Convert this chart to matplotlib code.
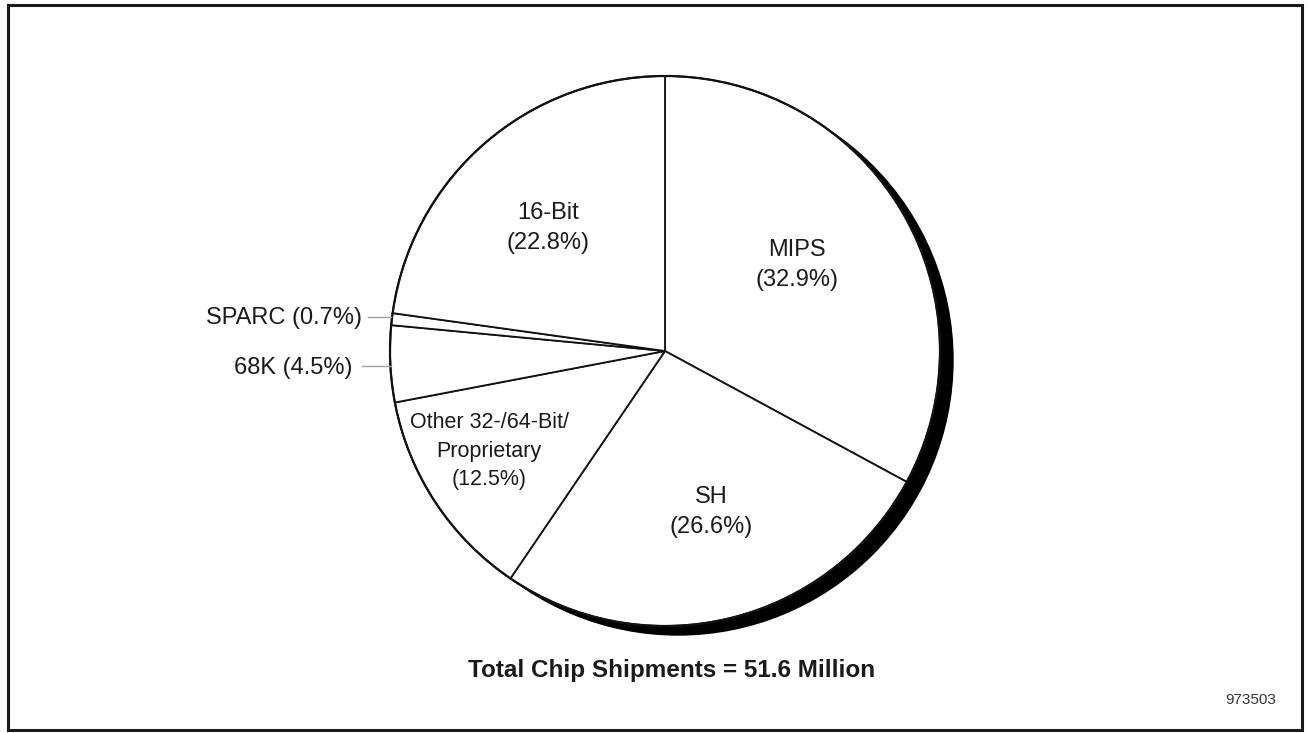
import matplotlib
matplotlib.use("Agg")
import matplotlib.pyplot as plt
from matplotlib.patches import Circle, Rectangle

# Data
categories = ["MIPS", "SH", "Other 32-/64-Bit/\nProprietary", "68K", "SPARC", "16-Bit"]
shares = [32.9, 26.6, 12.5, 4.5, 0.7, 22.8]
title_text = "Total Chip Shipments = 51.6 Million"
figure_id = "973503"

plt.rcParams['font.family'] = ['Liberation Sans', 'DejaVu Sans']

W, H = 1308, 733
fig = plt.figure(figsize=(W / 100, H / 100), dpi=100)
ax = fig.add_axes([0, 0, 1, 1])

cx, cy, R = 665, 733 - 351, 275

# shadow
ax.add_patch(Circle((cx + 13, cy - 9), R, facecolor='black', edgecolor='black', zorder=0))

wedges, _ = ax.pie(shares, startangle=90, counterclock=False, center=(cx, cy), radius=R,
                   wedgeprops=dict(facecolor='white', edgecolor='#111111', linewidth=1.3))
for w in wedges:
    w.set_zorder(1)
# outer outline a bit thicker
ax.add_patch(Circle((cx, cy), R, facecolor='none', edgecolor='#111111', linewidth=1.6, zorder=2))

tc = '#1a1a1a'
fs = 17
def lab(i, x, y, size=fs):
    ax.text(x, H - y, f"{categories[i]}\n({shares[i]}%)", ha='center', va='center',
            fontsize=size, color=tc, linespacing=1.5, zorder=3)

lab(0, 797, 265)
lab(1, 711, 512)
lab(2, 489, 451, size=15.5)
lab(5, 548, 228)

# small slices with leader lines
ax.text(362, H - 318, f"{categories[4]} ({shares[4]}%)", ha='right', va='center',
        fontsize=fs, color=tc, zorder=3)
ax.plot([368, 391], [H - 317, H - 317], color='#a0a0a0', lw=1.0, zorder=3)
ax.text(352, H - 368, f"{categories[3]} ({shares[3]}%)", ha='right', va='center',
        fontsize=fs, color=tc, zorder=3)
ax.plot([362, 391], [H - 366, H - 366], color='#a0a0a0', lw=1.0, zorder=3)

ax.text(672, H - 671, title_text, ha='center', va='center', fontsize=17.5,
        fontweight='bold', color=tc)
ax.text(1251, H - 700, figure_id, ha='center', va='center', fontsize=11, color='#333333')

# frame
ax.add_patch(Rectangle((8, H - 730), 1294, 725, facecolor='none', edgecolor='#1a1a1a',
                       linewidth=2.2, zorder=4))

ax.set_xlim(0, W)
ax.set_ylim(0, H)
ax.set_aspect('auto')
ax.axis('off')

fig.savefig("out.png", dpi=100, facecolor='white')
